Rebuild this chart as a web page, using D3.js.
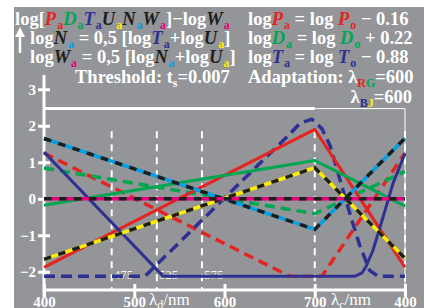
<!DOCTYPE html>
<html>
<head>
<meta charset="utf-8">
<script src="https://cdn.jsdelivr.net/npm/d3@7"></script>
<style>
  body { margin: 0; background: #fff; }
  text { font-family: "Liberation Serif", "Times New Roman", serif; }
</style>
</head>
<body>
<svg id="chart" width="424" height="308"></svg>
<script>
// x is in "axis nm": 400..700 = lambda_d, 700..800 = lambda_c 700..400
var xTicks = [400, 500, 600, 700, 800];
var xTickLabels = ["400", "500", "600", "700", "400"];
var markTicks = [475, 525, 575];
var yTicks = [-2, -1, 0, 1, 2, 3];
var yTickLabels = ["\u22122", "\u22121", "0", "1", "2", "3"];

var redSolid = [[400, -1.88], [700, 1.90], [800, -1.88]];
var greenSolid = [[400, -0.18], [700, 1.05], [800, -0.20]];
var blueSolid = [[400, 1.28], [532, -2.12], [744.5, -2.12], [752, -2.04], [757, -1.85],
  [764.5, -1.41], [775.6, -0.51], [786.7, 0.42], [800, 1.24]];
var redDashed = [[400, 1.25], [672, -2.12], [708, -2.12], [800, 1.25]];
var greenDashed = [[400, 0.84], [700, -0.41], [800, 0.75]];
var blueDashed = [[400, -2.12], [512, -2.12], [611.6, 0.30], [672.6, 1.78], [683.7, 2.07],
  [697, 2.18], [708, 1.92], [717, 1.45], [741, -0.58], [750, -1.29], [761, -1.97],
  [770, -2.12], [800, -2.12]];
var yellowBlack = [[400, -1.66], [700, 0.85], [800, -1.63]];
var cyanBlack = [[400, 1.65], [700, -0.84], [800, 1.66]];
var magentaBlack = [[400, 0], [700, 0], [800, 0]];

var col = {
  grey: "#939598", red: "#e52421", green: "#00a650", blue: "#2e3192",
  cyan: "#00a0e3", yellow: "#ffed00", magenta: "#e6007e", black: "#1d1d1b"
};

var svg = d3.select("#chart");
svg.append("rect").attr("x", 14).attr("y", 7).attr("width", 410).attr("height", 301).attr("fill", col.grey);

var x = d3.scaleLinear().domain([400, 800]).range([44, 405]);
var y = d3.scaleLinear().domain([-2.5, 3]).range([290, 89.25]);

// frame lines
svg.append("line").attr("x1", x(400)).attr("x2", x(700)).attr("y1", y(2.47)).attr("y2", y(2.47))
  .attr("stroke", "#fff").attr("stroke-width", 3);
svg.append("line").attr("x1", x(700)).attr("x2", x(800)).attr("y1", y(2.47)).attr("y2", y(2.47))
  .attr("stroke", "#fff").attr("stroke-width", 1);
svg.append("line").attr("x1", x(800)).attr("x2", x(800)).attr("y1", y(2.47)).attr("y2", y(-2.5))
  .attr("stroke", "#fff").attr("stroke-width", 1);

// dashed verticals
markTicks.concat([700, 800]).forEach(function(v) {
  svg.append("line").attr("x1", x(v)).attr("x2", x(v)).attr("y1", y(1.85)).attr("y2", y(-2.5))
    .attr("stroke", "#fff").attr("stroke-width", 2).attr("stroke-dasharray", "7,6");
});
markTicks.forEach(function(v) {
  svg.append("text").attr("x", x(v) + 2).attr("y", 279).attr("fill", "#f2f2f2")
    .attr("font-size", 13).text(v);
});

// axes
svg.append("line").attr("x1", 44).attr("x2", 44).attr("y1", 75).attr("y2", 297)
  .attr("stroke", "#fff").attr("stroke-width", 3);
svg.append("line").attr("x1", 44).attr("x2", 406).attr("y1", 290).attr("y2", 290)
  .attr("stroke", "#fff").attr("stroke-width", 3);

var gy = svg.append("g").attr("transform", "translate(44,0)")
  .call(d3.axisLeft(y).tickValues(yTicks).tickSize(6).tickFormat(function(d, i) { return yTickLabels[i]; }));
gy.select(".domain").remove();
gy.selectAll("line").attr("x1", 6).attr("stroke", "#fff").attr("stroke-width", 3);
gy.selectAll("text").attr("x", -8).attr("fill", "#fff").attr("font-size", 15)
  .attr("font-weight", "bold").attr("font-family", "Liberation Serif");

var gx = svg.append("g").attr("transform", "translate(0,290)")
  .call(d3.axisBottom(x).tickValues(xTicks).tickSize(7).tickFormat(function(d, i) { return xTickLabels[i]; }));
gx.select(".domain").remove();
gx.selectAll("line").attr("y1", -6).attr("stroke", "#fff").attr("stroke-width", 3);
gx.selectAll("text").attr("y", 17).attr("dy", 0).attr("fill", "#fff").attr("font-size", 15)
  .attr("font-weight", "bold").attr("font-family", "Liberation Serif");

function axisName(xp, sub) {
  var t = svg.append("text").attr("x", xp).attr("y", 305).attr("fill", "#fff").attr("font-size", 17);
  t.append("tspan").text("\u03bb");
  t.append("tspan").attr("dy", 4).attr("font-size", 12).text(sub);
  t.append("tspan").attr("dy", -4).text("/nm");
}
axisName(149, "d");
axisName(331, "c");

// data lines
var line = d3.line().x(function(d) { return x(d[0]); }).y(function(d) { return y(d[1]); });

function draw(data, color, width, dash) {
  svg.append("path").datum(data).attr("fill", "none").attr("stroke", color)
    .attr("stroke-width", width).attr("stroke-linejoin", "round")
    .attr("stroke-dasharray", dash || null).attr("d", line);
}

draw(redDashed, col.red, 3.5, "10,6");
draw(greenDashed, col.green, 3.5, "10,6");
draw(blueDashed, col.blue, 3.5, "11,6");
draw(redSolid, col.red, 3);
draw(greenSolid, col.green, 3);
draw(blueSolid, col.blue, 3);
[[yellowBlack, col.yellow], [cyanBlack, col.cyan], [magentaBlack, col.magenta]].forEach(function(p) {
  draw(p[0], p[1], 3.5);
  draw(p[0], col.black, 3.5, "7.5,7.5");
});

// header text
var textLines = [
  {x: 15, y: 25, parts: [["log[", "#fff"], ["P", col.red, "i"], ["a", col.red, "s"], ["D", col.green, "i"], ["a", col.green, "s"],
    ["T", col.blue, "i"], ["a", col.blue, "s"], ["U", col.black, "i"], ["a", col.yellow, "s"], ["N", col.black, "i"], ["a", col.cyan, "s"],
    ["W", col.black, "i"], ["a", col.magenta, "s"], ["]\u2212log", "#fff"], ["W", col.black, "i"], ["a", col.magenta, "s"]]},
  {x: 30, y: 44, parts: [["log", "#fff"], ["N", col.black, "i"], ["a", col.cyan, "s"], [" = 0,5 [log", "#fff"], ["T", col.blue, "i"], ["a", col.blue, "s"],
    ["+log", "#fff"], ["U", col.black, "i"], ["a", col.yellow, "s"], ["]", "#fff"]]},
  {x: 30, y: 63, parts: [["log", "#fff"], ["W", col.black, "i"], ["a", col.magenta, "s"], [" = 0,5 [log", "#fff"], ["N", col.black, "i"], ["a", col.cyan, "s"],
    ["+log", "#fff"], ["U", col.black, "i"], ["a", col.yellow, "s"], ["]", "#fff"]]},
  {x: 75, y: 83, parts: [["Threshold: t", "#fff"], ["s", "#fff", "s"], ["=0.007", "#fff"]]},
  {x: 248, y: 25, parts: [["log", "#fff"], ["P", col.red, "i"], ["a", col.red, "s"], [" = log ", "#fff"], ["P", col.red, "i"], ["o", col.red, "s"], [" \u2212 0.16", "#fff"]]},
  {x: 248, y: 44, parts: [["log", "#fff"], ["D", col.green, "i"], ["a", col.green, "s"], [" = log ", "#fff"], ["D", col.green, "i"], ["o", col.green, "s"], [" + 0.22", "#fff"]]},
  {x: 248, y: 63, parts: [["log", "#fff"], ["T", col.blue, "i"], ["a", col.blue, "s"], [" = log ", "#fff"], ["T", col.blue, "i"], ["o", col.blue, "s"], [" \u2212 0.88", "#fff"]]},
  {x: 248, y: 83, parts: [["Adaptation: \u03bb", "#fff"], ["R", col.red, "s"], ["G", col.green, "s2"], ["=600", "#fff"]]},
  {x: 412, y: 103, anchor: "end", parts: [["\u03bb", "#fff"], ["B", col.blue, "s"], ["J", col.yellow, "s2"], ["=600", "#fff"]]}
];

textLines.forEach(function(l) {
  var t = svg.append("text").attr("x", l.x).attr("y", l.y).attr("font-size", 18.5)
    .attr("font-weight", "bold").attr("text-anchor", l.anchor || "start").style("white-space", "pre");
  var down = false, prevItalic = false;
  l.parts.forEach(function(p) {
    var s = t.append("tspan").attr("fill", p[1]).text(p[0]);
    if (p[2] === "i") s.attr("font-style", "italic");
    if (p[2] === "s" || p[2] === "s2") {
      s.attr("font-size", 12);
      if (prevItalic) s.attr("dx", 1);
      if (!down) { s.attr("dy", 4); down = true; }
    } else if (down) { s.attr("dy", -4); down = false; }
    prevItalic = p[2] === "i";
  });
});

// up arrow
svg.append("line").attr("x1", 20).attr("x2", 20).attr("y1", 33).attr("y2", 53).attr("stroke", "#fff").attr("stroke-width", 2.5);
svg.append("path").attr("d", d3.line()([[15, 37], [20, 27], [25, 37]])).attr("fill", "#fff");
</script>
</body>
</html>
